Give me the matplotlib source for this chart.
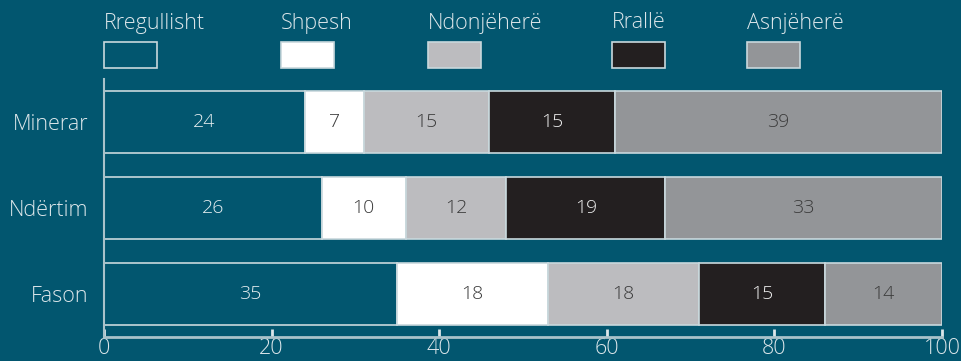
import matplotlib
matplotlib.use("Agg")
import matplotlib.pyplot as plt
from matplotlib.patches import Rectangle

categories = ["Fason", "Ndërtim", "Minerar"]
series_names = ["Rregullisht", "Shpesh", "Ndonjëherë", "Rrallë", "Asnjëherë"]
values = {
    "Rregullisht": [35, 26, 24],
    "Shpesh": [18, 10, 7],
    "Ndonjëherë": [18, 12, 15],
    "Rrallë": [15, 19, 15],
    "Asnjëherë": [14, 33, 39],
}
xticks = [0, 20, 40, 60, 80, 100]

BG = "#02566F"
colors = {
    "Rregullisht": BG,
    "Shpesh": "#FFFFFF",
    "Ndonjëherë": "#BCBCBF",
    "Rrallë": "#231F20",
    "Asnjëherë": "#939598",
}
text_colors = {
    "Rregullisht": "#E6EEF0",
    "Shpesh": "#3A3A3A",
    "Ndonjëherë": "#3A3A3A",
    "Rrallë": "#F0F0F0",
    "Asnjëherë": "#3A3A3A",
}
EDGE = "#C9D8DD"
LIGHT = "#DCE6EA"

plt.rcParams["font.family"] = ["Open Sans", "DejaVu Sans"]

fig = plt.figure(figsize=(9.61, 3.61), dpi=100, facecolor=BG)
ax = fig.add_axes([104 / 961, 1 - 337 / 361, (942 - 104) / 961, 258 / 361])
ax.set_facecolor(BG)

ypos = list(range(len(categories)))
left = [0] * len(categories)
for name in series_names:
    vals = values[name]
    ax.barh(ypos, vals, left=left, height=0.72, color=colors[name],
            edgecolor=EDGE, linewidth=1.2, zorder=2)
    for y, l, v in zip(ypos, left, vals):
        ax.text(l + v / 2, y, str(v), ha="center", va="center",
                fontsize=14, fontweight="light", color=text_colors[name], zorder=3)
    left = [a + b for a, b in zip(left, vals)]

ax.set_xlim(0, 100)
ax.set_ylim(-0.5, 2.5)
ax.set_yticks(ypos)
ax.set_yticklabels(categories, fontsize=15.5, fontweight="light", color=LIGHT)
ax.set_xticks(xticks)
ax.set_xticklabels([str(t) for t in xticks], fontsize=15.5, fontweight="light", color=LIGHT)
ax.tick_params(axis="y", length=0, pad=11)
ax.tick_params(axis="x", direction="in", length=6, width=2, color=LIGHT, pad=1)
for s in ["top", "right"]:
    ax.spines[s].set_visible(False)
ax.spines["bottom"].set_color("#A9C2CA")
ax.spines["bottom"].set_linewidth(2)
ax.spines["left"].set_color("#A9C2CA")
ax.spines["left"].set_linewidth(1.5)

# Legend
leg_x = [104, 281, 428, 612, 747]
for name, x in zip(series_names, leg_x):
    fig.patches.append(Rectangle((x / 961, 1 - 68 / 361), 53 / 961, 26 / 361,
                                 transform=fig.transFigure, facecolor=colors[name],
                                 edgecolor=EDGE, linewidth=1.2))
    fig.text(x / 961, 1 - 23 / 361, name, ha="left", va="center",
             fontsize=15.5, fontweight="light", color=LIGHT)

fig.savefig("out.png", dpi=100, facecolor=BG)
